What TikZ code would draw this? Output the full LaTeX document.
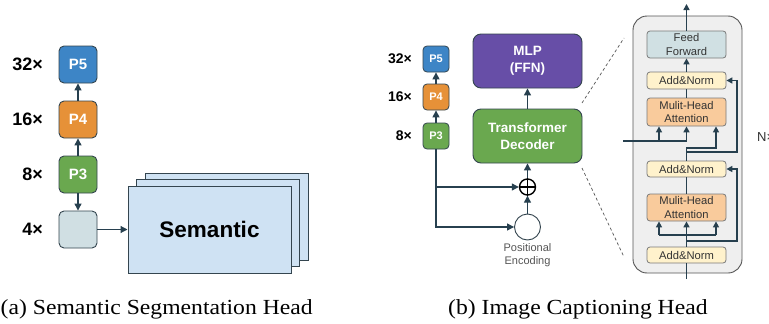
\documentclass[tikz,border=0pt]{standalone}
\usepackage{fontspec}
\usepackage{graphicx}
\setmainfont{Liberation Sans}
\newfontfamily\capfont{Liberation Serif}
\usetikzlibrary{arrows.meta}
\definecolor{bordc}{HTML}{34454F}
\definecolor{arrc}{HTML}{27404F}
\definecolor{pblue}{HTML}{3D85C6}
\definecolor{porange}{HTML}{E69138}
\definecolor{pgreen}{HTML}{6AA84F}
\definecolor{fourc}{HTML}{D0DFE3}
\definecolor{semc}{HTML}{CFE2F3}
\definecolor{mlpc}{HTML}{674EA7}
\definecolor{ffc}{HTML}{D0E0E3}
\definecolor{anc}{HTML}{FFF2CC}
\definecolor{mhac}{HTML}{F9CB9C}
\definecolor{decbg}{HTML}{EFEFEF}
\definecolor{inbord}{HTML}{7A7A7A}
\definecolor{txtgrey}{HTML}{333333}
\definecolor{pegrey}{HTML}{555555}
\tikzset{
  pbox/.style={draw=bordc, line width=0.9pt, rounded corners=5pt, minimum width=38pt, minimum height=37pt, inner sep=0pt, text=white, font=\fontsize{15}{18}\selectfont\bfseries},
  pboxs/.style={draw=bordc, line width=0.8pt, rounded corners=4pt, minimum width=26pt, minimum height=26pt, inner sep=0pt, text=white, font=\fontsize{11}{13}\selectfont\bfseries},
  scalel/.style={anchor=east, inner sep=0pt, font=\fontsize{18}{20}\selectfont\bfseries},
  scales/.style={anchor=east, inner sep=0pt, font=\fontsize{14}{16}\selectfont\bfseries},
  sem/.style={draw=bordc, line width=1pt, fill=semc, minimum width=163pt, minimum height=87pt, inner sep=0pt},
  bigbox/.style={draw=bordc, line width=0.9pt, rounded corners=8pt, minimum width=109pt, minimum height=54pt, inner sep=0pt, text=white, align=center, font=\fontsize{13.5}{17}\selectfont\bfseries},
  arr/.style={draw=arrc, line width=1.2pt, -{Triangle[length=7pt,width=7pt]}},
  inbox/.style={draw=inbord, line width=0.8pt, rounded corners=3pt, minimum width=79pt, inner sep=0pt, text=txtgrey, align=center, font=\fontsize{11.2}{13.5}\selectfont},
  rline/.style={draw=arrc, line width=1.7pt},
  rarr/.style={draw=arrc, line width=1.7pt, -{Triangle[length=6pt,width=6pt]}},
  dashl/.style={draw=pegrey, line width=0.7pt, dash pattern=on 3pt off 2.5pt},
}
\begin{document}
\begin{tikzpicture}[x=1pt,y=-1pt]
\useasboundingbox (0,0) rectangle (769,324);
\fill[white] (0,0) rectangle (769,324);

% ---------- (a) ----------
\node[pbox, fill=pblue] (p5) at (78,64.5) {P5};
\node[pbox, fill=porange] (p4) at (78,119.5) {P4};
\node[pbox, fill=pgreen] (p3) at (78,174.5) {P3};
\node[pbox, fill=fourc] (f4) at (78,229.5) {};
\node[scalel] (l32) at (43,64.5) {32×};
\node[scalel] (l16) at (43,119.5) {16×};
\node[scalel] (l8) at (43,174.5) {8×};
\node[scalel] (l4) at (43,229.5) {4×};
\draw[arr] (p4.north) -- (p5.south);
\draw[arr] (p3.north) -- (p4.south);
\draw[arr] (p3.south) -- (f4.north);
\node[sem] (s3) at (226.5,216.5) {};
\node[sem] (s2) at (218,223) {};
\node[sem, font=\fontsize{22.5}{26}\selectfont\bfseries] (s1) at (209.5,229.5) {Semantic};
\draw[arr] (f4.east) -- (s1.west);

% ---------- (b) ----------
\node[pboxs, fill=pblue] (q5) at (436,59) {P5};
\node[pboxs, fill=porange] (q4) at (436,97) {P4};
\node[pboxs, fill=pgreen] (q3) at (436,136) {P3};
\node[scales] (m32) at (412,59) {32×};
\node[scales] (m16) at (412,97) {16×};
\node[scales] (m8) at (412,136) {8×};
\draw[arr] (q4.north) -- (q5.south);
\draw[arr] (q3.north) -- (q4.south);

\node[bigbox, fill=mlpc] (mlp) at (527.5,61) {MLP\\(FFN)};
\node[bigbox, fill=pgreen] (td) at (527.5,136) {Transformer\\Decoder};
\draw[arr] (td.north) -- (mlp.south);

\node[circle, draw=black, line width=1.4pt, minimum size=16pt, inner sep=0pt] (plus) at (527.5,187) {};
\draw[line width=1.4pt] (plus.north) -- (plus.south) (plus.west) -- (plus.east);
\node[circle, draw=bordc, line width=0.9pt, fill=white, minimum size=26pt, inner sep=0pt] (pe) at (527.5,227) {};
\node[align=center, inner sep=0pt, text=pegrey, font=\fontsize{11}{13}\selectfont] (pet) at (527.5,255) {Positional\\Encoding};
\draw[arr] (plus.north) -- (td.south);
\draw[arr] (pe.north) -- (plus.south);
\draw[arr] (q3.south) |- (pe.west);
\draw[arr] (q3.south |- plus.west) -- (plus.west);

% dashed zoom lines
\coordinate (d1) at (582,103);
\coordinate (d2) at (624,38);
\coordinate (d3) at (582,168);
\coordinate (d4) at (624,257);
\draw[dashl] (d1) -- (d2);
\draw[dashl] (d3) -- (d4);

% decoder detail
\node[draw=pegrey, line width=0.9pt, fill=decbg, rounded corners=14pt, minimum width=109pt, minimum height=257pt, inner sep=0pt] (dec) at (687.5,144.5) {};
\node[inbox, fill=ffc, minimum height=27pt] (ff) at (686.5,44.5) {Feed\\Forward};
\node[inbox, fill=anc, minimum height=17pt] (an1) at (686.5,80.5) {Add\&Norm};
\node[inbox, fill=mhac, minimum height=28pt] (mha1) at (686.5,112) {Mulit-Head\\Attention};
\node[inbox, fill=anc, minimum height=16pt] (an2) at (686.5,169) {Add\&Norm};
\node[inbox, fill=mhac, minimum height=27pt] (mha2) at (686.5,207.5) {Mulit-Head\\Attention};
\node[inbox, fill=anc, minimum height=16pt] (an3) at (686.5,255) {Add\&Norm};

\coordinate (top) at (686.5,4);
\draw[rarr] (ff.north) -- (top);
\draw[rarr] (an1.north) -- (ff.south);
\draw[rline] (mha1.north) -- (an1.south);
% cross-attention inputs
\coordinate (lin) at (623,141);
\coordinate (j1) at (686.5,141);
\coordinate (k1) at (659,141);
\draw[rarr] (lin) -- (j1) -- (mha1.south);
\draw[rarr] (k1) -- (k1 |- mha1.south);
\coordinate (c1) at (686.5,148);
\coordinate (c2) at (716,148);
\draw[rarr] (an2.north) -- (c1) -- (c2) -- (c2 |- mha1.south);
\coordinate (r1) at (686.5,152);
\coordinate (r2) at (737,152);
\draw[rarr] (r1) -- (r2) |- (an1.east);
\draw[rline] (mha2.north) -- (an2.south);
% self-attention inputs
\coordinate (bot) at (686.5,279);
\draw[rline] (bot) -- (an3.south);
\coordinate (b0) at (659,235);
\coordinate (b1) at (686.5,235);
\coordinate (b2) at (716,235);
\draw[rline] (an3.north) -- (b1);
\draw[rline] (b0) -- (b2);
\draw[rarr] (b0) -- (b0 |- mha2.south);
\draw[rarr] (b1) -- (b1 |- mha2.south);
\draw[rarr] (b2) -- (b2 |- mha2.south);
\coordinate (q1) at (686.5,241);
\coordinate (q2) at (737,241);
\draw[rarr] (q1) -- (q2) |- (an2.east);
\node[anchor=west, inner sep=0pt, text=txtgrey, font=\fontsize{13}{15}\selectfont] (nx) at (757,137) {N×};

% captions
\node[anchor=base west, inner sep=0pt, font=\capfont\fontsize{21.5}{24}\selectfont] (capa) at (0.5,314) {\scalebox{1.1}[1]{(a) Semantic Segmentation Head}};
\node[anchor=base west, inner sep=0pt, font=\capfont\fontsize{21.5}{24}\selectfont] (capb) at (448,314) {\scalebox{1.1}[1]{(b) Image Captioning Head}};
\end{tikzpicture}
\end{document}
